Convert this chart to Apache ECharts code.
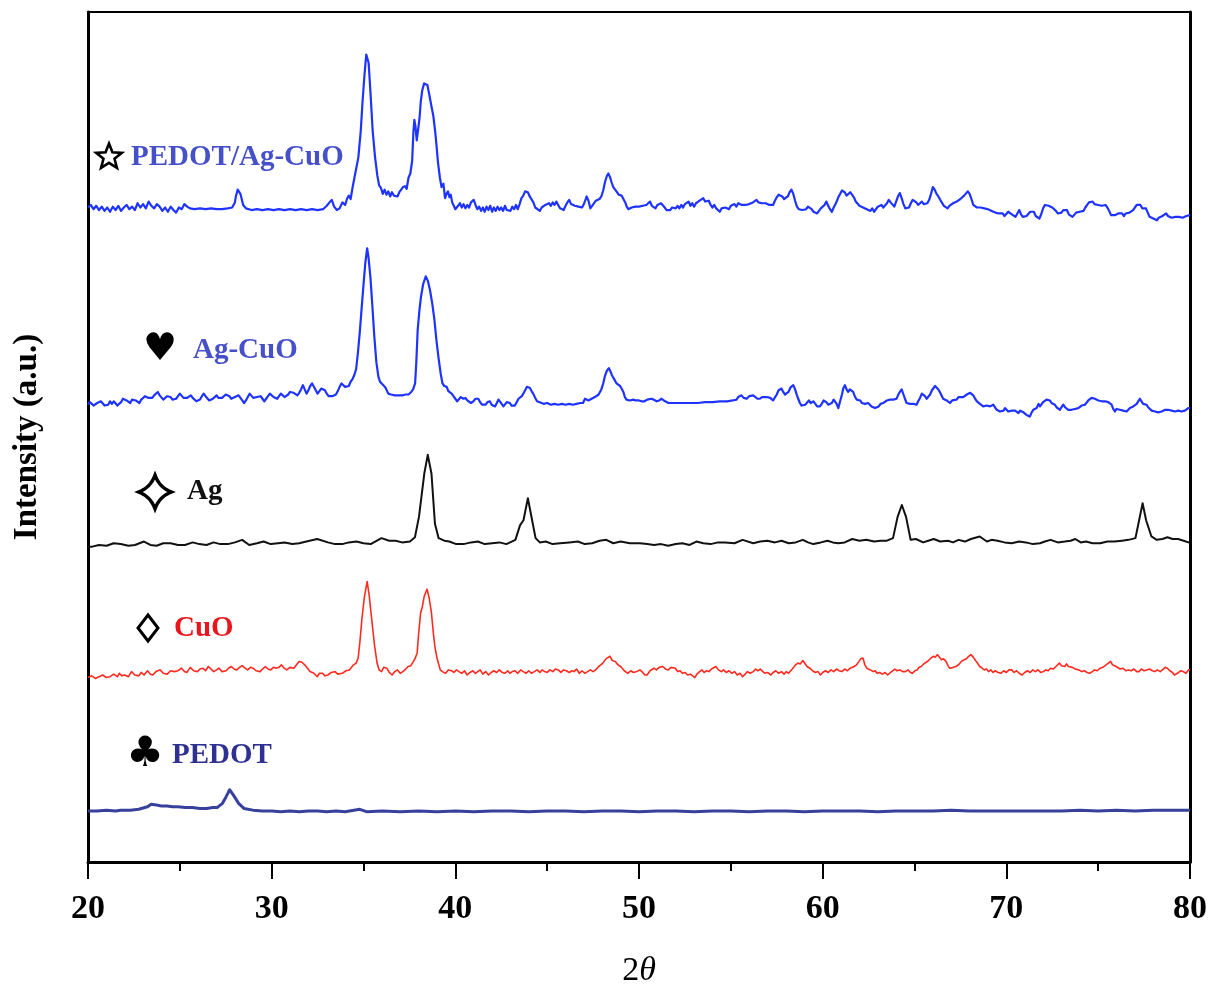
<!DOCTYPE html>
<html>
<head>
<meta charset="utf-8">
<script src="https://cdn.jsdelivr.net/npm/echarts@6/dist/echarts.min.js"></script>
<style>html,body{margin:0;padding:0;background:#fff}#c{width:1213px;height:987px}</style>
</head>
<body>
<div id="c"></div>
<script>
// x axis ticks (2θ, degrees)
const xTicks = [20, 30, 40, 50, 60, 70, 80];

// Series labels
const labels = ['PEDOT/Ag-CuO', 'Ag-CuO', 'Ag', 'CuO', 'PEDOT'];

// [2θ, intensity (a.u., stacked offset)]
const pedotAgCuO = [
[20.0,77.0],[20.15,77.3],[20.3,76.8],[20.45,77.2],[20.6,76.7],[20.75,77.1],[20.9,76.6],[21.05,77.0],[21.2,76.5],[21.35,77.1],
[21.5,76.7],[21.65,77.2],[21.8,76.6],[21.95,77.0],[22.1,77.3],[22.25,76.8],[22.4,77.1],[22.55,76.7],[22.7,77.5],[22.85,77.0],
[23.0,77.4],[23.15,76.9],[23.3,77.7],[23.45,77.2],[23.6,76.9],[23.75,77.4],[23.9,77.1],[24.05,76.6],[24.2,77.0],[24.35,76.5],
[24.5,77.1],[24.65,76.7],[24.8,76.4],[24.95,77.0],[25.1,76.8],[25.25,77.4],[25.4,77.1],[25.55,76.9],[25.8,76.8],[26.1,76.9],
[26.4,76.8],[26.7,76.9],[27.0,76.8],[27.3,76.8],[27.6,76.9],[27.85,77.0],[28.0,77.6],[28.05,78.3],[28.15,79.1],[28.25,79.0],
[28.3,78.6],[28.45,77.3],[28.6,76.9],[28.9,76.7],[29.2,76.8],[29.5,76.7],[29.8,76.8],[30.1,76.7],[30.4,76.8],[30.7,76.7],
[31.0,76.8],[31.3,76.7],[31.6,76.8],[31.9,76.7],[32.2,76.8],[32.5,76.7],[32.8,76.8],[33.0,77.2],[33.15,77.6],[33.27,77.9],
[33.4,77.1],[33.55,76.7],[33.7,76.9],[33.85,77.6],[34.0,77.3],[34.1,78.0],[34.2,78.4],[34.3,78.0],[34.4,79.3],[34.55,81.0],
[34.72,82.9],[34.85,86.0],[34.95,89.5],[35.05,92.5],[35.15,95.0],[35.2,95.2],[35.28,94.0],[35.38,90.5],[35.5,86.0],[35.63,82.9],
[35.75,80.8],[35.85,79.6],[35.95,79.3],[36.05,78.6],[36.15,79.1],[36.25,78.5],[36.35,78.9],[36.45,78.3],[36.55,78.8],[36.65,78.4],
[36.75,78.6],[36.85,78.3],[36.95,78.8],[37.05,78.7],[37.15,79.4],[37.26,79.5],[37.35,79.2],[37.45,80.5],[37.55,81.0],[37.65,82.5],
[37.72,86.0],[37.77,87.3],[37.83,86.5],[37.9,84.9],[37.98,84.7],[38.05,87.5],[38.12,89.5],[38.2,90.8],[38.3,91.6],[38.38,91.8],
[38.48,91.4],[38.58,90.3],[38.71,88.8],[38.8,87.8],[38.9,86.0],[38.98,84.2],[39.05,82.4],[39.16,80.5],[39.25,79.4],[39.35,79.8],
[39.44,78.1],[39.52,78.6],[39.6,78.9],[39.68,78.2],[39.75,78.5],[39.83,77.6],[39.9,77.3],[40.0,76.8],[40.07,76.6],[40.15,77.2],
[40.25,77.5],[40.35,77.0],[40.45,77.4],[40.55,76.9],[40.65,77.3],[40.75,77.0],[40.85,77.6],[41.0,77.9],[41.1,77.3],[41.2,76.8],
[41.3,77.1],[41.4,76.6],[41.5,77.0],[41.6,76.5],[41.7,77.1],[41.8,76.7],[41.9,77.2],[42.0,76.5],[42.1,77.0],[42.2,76.6],
[42.3,77.1],[42.4,76.7],[42.5,77.0],[42.6,76.6],[42.7,77.2],[42.8,76.7],[42.9,76.9],[43.0,76.6],[43.1,77.1],[43.2,76.8],
[43.3,77.3],[43.4,76.8],[43.5,77.4],[43.6,78.1],[43.7,78.4],[43.8,78.9],[43.88,79.1],[43.95,78.8],[44.05,78.3],[44.15,78.5],
[44.25,77.6],[44.35,77.0],[44.45,76.9],[44.6,76.6],[44.7,77.0],[44.8,76.8],[44.9,77.3],[45.0,77.1],[45.1,77.5],[45.2,77.2],
[45.3,77.6],[45.4,77.3],[45.5,77.7],[45.6,77.3],[45.7,76.9],[45.8,77.0],[45.9,76.7],[46.0,77.2],[46.1,77.6],[46.2,77.9],
[46.3,77.4],[46.4,77.5],[46.5,77.2],[46.6,77.4],[46.7,77.1],[46.8,77.3],[46.9,77.0],[47.0,77.4],[47.1,78.0],[47.15,78.3],
[47.25,77.8],[47.35,76.9],[47.45,77.2],[47.55,77.0],[47.65,77.8],[47.75,77.6],[47.85,78.0],[47.95,78.3],[48.05,79.0],[48.15,80.0],
[48.25,80.7],[48.33,81.0],[48.42,80.6],[48.5,80.0],[48.6,79.4],[48.7,79.3],[48.8,78.8],[48.9,78.5],[48.97,78.7],[49.05,78.4],
[49.15,78.3],[49.25,77.6],[49.33,77.1],[49.42,76.8],[49.5,76.7],[49.6,77.0],[49.7,76.8],[49.8,77.1],[49.9,76.9],[50.0,77.1],
[50.1,76.9],[50.2,77.2],[50.3,77.0],[50.4,77.3],[50.5,77.1],[50.6,77.7],[50.7,77.2],[50.8,77.0],[50.9,76.9],[51.0,77.3],
[51.1,77.1],[51.2,77.5],[51.3,77.7],[51.4,77.0],[51.5,76.7],[51.6,76.9],[51.7,76.7],[51.8,77.0],[51.9,76.8],[52.0,76.9],
[52.1,77.2],[52.2,76.9],[52.3,77.3],[52.4,77.0],[52.5,77.4],[52.6,77.2],[52.7,77.7],[52.8,77.2],[52.9,77.5],[53.0,77.1],
[53.1,77.5],[53.2,77.3],[53.3,77.8],[53.4,77.6],[53.5,78.1],[53.6,77.7],[53.7,77.5],[53.8,77.8],[53.9,77.3],[54.0,77.0],
[54.1,77.3],[54.2,76.9],[54.3,76.7],[54.4,76.5],[54.5,76.9],[54.6,76.7],[54.7,77.0],[54.8,77.1],[54.9,76.8],[55.0,77.2],
[55.1,77.0],[55.2,77.4],[55.3,77.1],[55.4,77.5],[55.5,77.7],[55.6,77.3],[55.7,77.1],[55.8,77.3],[55.9,77.1],[56.0,77.4],
[56.1,77.2],[56.2,77.6],[56.3,77.5],[56.4,77.9],[56.5,77.6],[56.6,77.8],[56.7,77.5],[56.8,77.7],[56.9,77.5],[57.0,77.6],
[57.1,77.3],[57.2,77.5],[57.3,77.3],[57.4,77.8],[57.5,78.2],[57.6,78.5],[57.7,78.7],[57.8,78.3],[57.9,78.0],[58.0,77.9],
[58.1,78.3],[58.2,78.8],[58.3,79.1],[58.4,78.6],[58.5,77.8],[58.6,77.1],[58.7,76.8],[58.8,77.0],[58.9,76.7],[59.0,76.5],
[59.1,76.8],[59.2,77.1],[59.3,77.1],[59.4,76.8],[59.5,76.5],[59.6,76.4],[59.7,76.3],[59.8,76.6],[59.9,76.9],[60.0,76.8],
[60.1,77.3],[60.2,77.7],[60.3,77.2],[60.4,76.8],[60.5,76.5],[60.6,77.0],[60.7,77.4],[60.76,77.7],[60.85,78.2],[60.95,78.6],
[61.05,79.0],[61.12,79.1],[61.2,78.8],[61.3,78.4],[61.4,78.5],[61.5,78.8],[61.58,78.7],[61.7,78.2],[61.8,77.7],[61.9,77.5],
[62.0,77.2],[62.1,77.4],[62.2,77.0],[62.3,77.1],[62.4,76.8],[62.5,76.9],[62.6,76.6],[62.7,76.9],[62.8,76.5],[62.9,76.7],
[63.0,77.1],[63.1,76.9],[63.2,77.3],[63.3,77.0],[63.4,77.2],[63.5,77.5],[63.6,77.9],[63.7,77.6],[63.8,77.4],[63.9,77.1],
[64.0,77.7],[64.1,78.3],[64.2,78.7],[64.3,78.1],[64.4,77.4],[64.5,76.9],[64.6,76.7],[64.7,77.0],[64.8,77.5],[64.9,77.9],
[65.0,77.9],[65.1,77.6],[65.2,77.3],[65.3,77.4],[65.4,77.7],[65.5,77.4],[65.6,77.6],[65.7,77.5],[65.8,77.9],[65.9,78.6],
[66.0,79.4],[66.1,79.1],[66.2,78.6],[66.3,78.3],[66.4,77.9],[66.5,77.8],[66.6,77.2],[66.7,77.0],[66.8,76.9],[66.9,77.2],
[67.0,77.4],[67.1,77.5],[67.2,77.3],[67.3,77.7],[67.4,77.9],[67.5,78.0],[67.6,78.2],[67.7,78.4],[67.8,78.6],[67.9,78.9],
[68.0,78.6],[68.1,78.0],[68.2,77.3],[68.3,77.1],[68.4,77.0],[68.5,76.9],[68.6,77.0],[68.7,76.8],[68.8,76.9],[68.9,76.7],
[69.0,76.8],[69.1,76.6],[69.2,76.6],[69.3,76.5],[69.4,76.4],[69.5,76.6],[69.6,76.3],[69.7,76.1],[69.8,76.3],[69.9,76.0],
[70.0,76.2],[70.1,76.5],[70.2,76.7],[70.3,76.2],[70.4,76.0],[70.5,75.9],[70.6,76.3],[70.7,76.7],[70.8,76.2],[70.9,75.9],
[71.0,75.7],[71.1,76.0],[71.2,76.2],[71.3,76.5],[71.4,76.3],[71.5,76.5],[71.6,76.0],[71.7,75.8],[71.8,75.7],[71.9,76.2],
[72.0,76.9],[72.1,77.3],[72.2,77.5],[72.3,77.2],[72.4,77.3],[72.5,77.0],[72.6,77.1],[72.7,76.6],[72.8,76.3],[72.9,76.1],
[73.0,76.4],[73.1,76.7],[73.2,76.5],[73.3,76.7],[73.4,76.2],[73.5,76.0],[73.6,75.9],[73.7,76.1],[73.8,76.4],[73.9,76.2],
[74.0,76.5],[74.1,76.7],[74.2,76.6],[74.3,77.0],[74.4,77.1],[74.5,77.6],[74.6,77.5],[74.7,77.7],[74.8,77.4],[74.9,77.5],
[75.0,77.3],[75.1,77.5],[75.2,77.2],[75.3,77.4],[75.4,77.3],[75.5,77.0],[75.6,76.6],[75.7,76.1],[75.8,75.9],[75.9,76.1],
[76.0,76.0],[76.1,76.3],[76.2,76.1],[76.3,76.3],[76.4,76.0],[76.5,76.3],[76.6,76.1],[76.7,76.4],[76.8,76.3],[76.9,76.7],
[77.0,77.0],[77.1,77.3],[77.2,77.5],[77.3,77.3],[77.4,76.9],[77.5,76.7],[77.6,76.9],[77.7,76.4],[77.8,75.9],[77.9,75.8],
[78.0,75.7],[78.1,75.6],[78.2,75.5],[78.3,75.8],[78.4,75.9],[78.5,76.0],[78.6,76.2],[78.7,76.3],[78.8,76.0],[78.9,75.9],
[79.0,75.8],[79.1,75.7],[79.2,75.9],[79.3,75.8],[79.4,75.9],[79.5,76.0],[79.6,75.8],[79.7,75.9],[79.8,76.0],[79.9,75.9],
[80.0,76.1]
];

const agCuO = [
[20.0,53.8],[20.1,54.1],[20.2,54.0],[20.3,53.7],[20.4,53.6],[20.5,54.0],[20.6,53.8],[20.7,54.2],[20.8,54.0],[20.9,53.7],
[21.0,53.9],[21.1,53.8],[21.2,54.2],[21.3,53.9],[21.4,54.2],[21.5,54.0],[21.6,53.7],[21.7,53.8],[21.8,54.1],[21.9,54.5],
[22.0,54.7],[22.1,54.3],[22.2,54.2],[22.3,54.0],[22.4,54.4],[22.5,54.5],[22.6,54.3],[22.7,54.1],[22.8,54.0],[22.9,54.4],
[23.0,54.6],[23.1,54.8],[23.2,54.9],[23.3,54.6],[23.4,54.5],[23.5,54.6],[23.6,54.9],[23.7,55.1],[23.8,55.3],[23.9,54.9],
[24.0,54.7],[24.1,54.4],[24.2,54.4],[24.3,54.8],[24.4,54.6],[24.5,54.7],[24.6,54.4],[24.7,54.2],[24.8,54.5],[24.9,54.8],
[25.0,55.1],[25.1,54.9],[25.2,54.6],[25.3,54.4],[25.4,54.6],[25.5,54.7],[25.6,54.9],[25.7,54.6],[25.8,54.4],[25.9,54.2],
[26.0,54.0],[26.1,54.4],[26.2,54.8],[26.3,55.1],[26.4,54.8],[26.5,54.6],[26.6,54.3],[26.7,54.2],[26.8,54.5],[26.9,54.7],
[27.0,54.9],[27.1,54.6],[27.2,54.5],[27.3,54.6],[27.4,54.8],[27.5,55.0],[27.6,55.1],[27.7,54.8],[27.8,54.5],[27.9,54.6],
[28.0,54.7],[28.1,54.9],[28.2,54.9],[28.3,54.6],[28.4,54.3],[28.5,54.0],[28.6,54.3],[28.7,54.7],[28.8,55.1],[28.9,54.9],
[29.0,54.6],[29.1,54.5],[29.2,54.7],[29.3,54.9],[29.4,54.8],[29.5,54.5],[29.6,54.2],[29.7,54.5],[29.8,54.8],[29.9,55.1],
[30.0,54.9],[30.1,54.7],[30.2,54.5],[30.3,54.5],[30.4,54.8],[30.5,55.1],[30.6,54.9],[30.7,54.7],[30.8,54.7],[30.9,55.0],
[31.0,55.3],[31.1,55.5],[31.2,55.2],[31.3,55.0],[31.4,54.9],[31.5,55.2],[31.6,55.6],[31.7,56.1],[31.8,55.6],[31.9,55.1],
[32.0,55.5],[32.1,56.0],[32.2,56.3],[32.3,55.9],[32.4,55.5],[32.5,55.1],[32.6,55.4],[32.7,55.7],[32.8,55.9],[32.9,55.5],
[33.0,55.1],[33.1,54.8],[33.2,54.7],[33.3,54.8],[33.4,54.9],[33.5,55.0],[33.6,55.4],[33.7,55.9],[33.8,56.3],[33.9,56.1],
[34.0,55.9],[34.1,55.8],[34.2,56.0],[34.3,56.5],[34.4,56.8],[34.5,57.3],[34.6,58.0],[34.7,60.0],[34.8,62.4],[34.9,65.2],
[35.0,67.9],[35.1,70.5],[35.2,72.2],[35.28,71.0],[35.38,68.7],[35.48,65.5],[35.59,61.8],[35.7,58.8],[35.81,57.1],[35.9,56.5],
[36.0,56.6],[36.08,56.1],[36.2,55.8],[36.35,55.1],[36.5,55.0],[36.7,54.9],[36.9,54.9],[37.1,54.9],[37.3,55.0],[37.45,55.0],
[37.6,55.3],[37.7,55.6],[37.81,56.3],[37.88,59.0],[37.95,62.6],[38.05,65.0],[38.13,66.5],[38.25,68.0],[38.39,68.9],[38.5,68.4],
[38.62,67.3],[38.75,65.6],[38.86,63.8],[38.97,61.4],[39.08,59.4],[39.2,57.5],[39.3,56.3],[39.4,56.0],[39.53,55.9],[39.62,55.4],
[39.7,55.6],[39.8,55.1],[39.9,54.8],[40.0,54.5],[40.1,54.2],[40.2,54.3],[40.3,54.7],[40.44,54.5],[40.55,54.6],[40.65,54.3],
[40.75,54.5],[40.85,54.0],[40.98,54.2],[41.1,54.5],[41.25,54.5],[41.35,54.1],[41.45,53.8],[41.55,53.6],[41.65,53.8],[41.75,54.1],
[41.88,54.2],[41.98,53.8],[42.08,53.6],[42.16,53.6],[42.26,54.0],[42.35,54.4],[42.43,54.3],[42.52,53.9],[42.62,53.6],[42.7,53.7],
[42.8,54.1],[42.9,54.2],[42.97,54.0],[43.06,53.7],[43.15,53.6],[43.24,53.7],[43.34,54.1],[43.44,54.5],[43.52,54.4],[43.62,54.8],
[43.7,55.1],[43.8,55.5],[43.9,55.9],[43.97,56.1],[44.05,55.8],[44.15,55.4],[44.24,55.1],[44.35,54.6],[44.45,54.2],[44.55,54.1],
[44.8,53.9],[45.0,54.0],[45.2,53.8],[45.4,53.9],[45.6,53.8],[45.8,53.9],[46.0,53.8],[46.2,53.9],[46.4,53.8],[46.6,53.9],
[46.8,54.0],[46.95,54.0],[47.06,54.5],[47.15,54.6],[47.25,54.3],[47.33,54.2],[47.42,54.5],[47.5,54.6],[47.6,54.7],[47.7,54.6],
[47.8,55.0],[47.87,55.1],[47.95,55.6],[48.05,56.3],[48.15,57.2],[48.25,57.8],[48.36,58.1],[48.45,57.7],[48.52,57.3],[48.6,57.1],
[48.7,56.6],[48.78,56.3],[48.88,56.4],[48.97,56.0],[49.05,55.7],[49.15,55.3],[49.23,54.7],[49.32,54.4],[49.41,54.2],[49.5,54.3],
[49.6,54.4],[49.69,54.4],[49.8,54.3],[49.9,54.2],[50.0,54.3],[50.14,54.2],[50.3,54.2],[50.45,54.4],[50.55,54.3],[50.68,54.5],
[50.8,54.4],[50.96,54.2],[51.1,54.3],[51.23,54.5],[51.35,54.3],[51.45,54.1],[51.6,54.0],[52.0,54.0],[52.4,54.0],[52.8,54.0],
[53.2,54.0],[53.6,54.1],[54.0,54.1],[54.4,54.2],[54.8,54.2],[55.1,54.3],[55.31,54.4],[55.4,54.7],[55.5,54.8],[55.58,54.9],
[55.7,54.6],[55.78,54.4],[55.86,54.5],[56.0,54.8],[56.1,54.7],[56.22,54.9],[56.32,54.7],[56.45,54.5],[56.58,54.5],[56.7,54.7],
[56.8,54.6],[56.95,54.7],[57.05,54.5],[57.15,54.6],[57.3,54.3],[57.4,54.4],[57.5,55.0],[57.6,55.5],[57.68,55.7],[57.76,55.7],
[57.85,55.3],[57.95,55.0],[58.04,54.9],[58.14,55.3],[58.24,55.8],[58.32,56.0],[58.4,56.1],[58.5,55.6],[58.6,54.9],[58.67,54.5],
[58.76,54.0],[58.85,53.7],[58.94,53.6],[59.05,53.8],[59.15,54.0],[59.25,54.3],[59.35,54.0],[59.49,54.2],[59.6,53.9],[59.7,53.6],
[59.85,53.6],[59.95,53.9],[60.05,54.3],[60.12,54.4],[60.2,54.1],[60.3,53.8],[60.39,53.6],[60.5,54.0],[60.6,54.4],[60.67,54.5],
[60.76,53.9],[60.85,53.4],[60.95,54.2],[61.05,55.0],[61.12,55.7],[61.21,56.1],[61.3,55.6],[61.39,55.3],[61.48,55.6],[61.57,55.7],
[61.66,55.3],[61.75,54.8],[61.85,54.4],[61.95,54.2],[62.05,54.3],[62.13,54.0],[62.21,54.0],[62.3,53.9],[62.4,53.8],[62.48,54.0],
[62.57,53.8],[62.66,53.6],[62.76,53.5],[62.85,53.4],[62.94,53.3],[63.05,53.6],[63.15,53.9],[63.3,54.0],[63.4,54.1],[63.5,54.3],
[63.66,54.4],[63.75,54.3],[63.85,54.4],[63.95,54.5],[64.02,54.5],[64.1,54.9],[64.2,55.3],[64.3,55.6],[64.4,55.0],[64.48,54.5],
[64.57,54.0],[64.66,53.9],[64.76,53.9],[64.85,53.8],[64.95,53.9],[65.02,53.8],[65.11,53.8],[65.2,54.2],[65.3,54.6],[65.4,55.1],
[65.48,55.1],[65.57,54.8],[65.66,54.5],[65.75,54.4],[65.85,55.0],[65.95,55.5],[66.05,55.6],[66.12,56.0],[66.2,56.1],[66.3,55.6],
[66.4,55.2],[66.48,55.0],[66.56,54.5],[66.65,54.6],[66.75,54.3],[66.85,54.2],[66.93,54.0],[67.05,54.3],[67.15,54.2],[67.29,54.4],
[67.4,54.7],[67.5,54.5],[67.65,54.7],[67.75,54.9],[67.85,55.0],[67.95,55.1],[68.03,55.2],[68.11,55.3],[68.2,54.9],[68.3,54.5],
[68.4,54.2],[68.47,54.0],[68.56,53.9],[68.65,53.8],[68.74,53.6],[68.83,53.4],[68.93,53.7],[69.02,53.5],[69.12,53.6],[69.2,53.8],
[69.29,53.8],[69.38,53.5],[69.48,53.2],[69.56,53.3],[69.65,53.0],[69.75,53.2],[69.85,53.1],[69.93,53.4],[70.01,53.2],[70.1,53.0],
[70.2,53.2],[70.3,53.1],[70.4,52.9],[70.48,53.1],[70.56,53.0],[70.66,52.8],[70.75,53.1],[70.85,53.0],[70.93,52.9],[71.01,52.8],
[71.1,52.6],[71.2,52.5],[71.28,52.4],[71.38,52.9],[71.47,53.2],[71.56,53.0],[71.65,53.4],[71.75,53.9],[71.83,53.6],[71.92,53.8],
[72.0,54.1],[72.1,54.3],[72.19,54.4],[72.28,54.2],[72.37,54.3],[72.46,54.0],[72.55,54.2],[72.64,53.8],[72.73,53.5],[72.82,53.3],
[72.92,53.2],[73.0,53.5],[73.1,53.8],[73.2,53.5],[73.28,53.6],[73.37,53.2],[73.46,53.0],[73.55,53.2],[73.64,53.0],[73.73,53.3],
[73.82,53.5],[73.92,53.4],[74.01,53.6],[74.1,53.7],[74.2,53.9],[74.28,53.8],[74.37,54.0],[74.46,54.3],[74.55,54.5],[74.64,54.6],
[74.73,54.7],[74.82,54.5],[74.92,54.6],[75.01,54.3],[75.1,54.5],[75.2,54.2],[75.28,54.4],[75.37,54.2],[75.46,54.4],[75.55,54.1],
[75.64,54.2],[75.73,53.8],[75.82,53.3],[75.91,53.0],[76.0,53.3],[76.1,53.5],[76.18,53.2],[76.27,53.4],[76.36,53.1],[76.45,53.3],
[76.55,53.0],[76.64,53.2],[76.73,53.4],[76.82,53.2],[76.91,53.6],[77.0,53.6],[77.1,53.9],[77.18,54.2],[77.27,54.5],[77.36,54.2],
[77.45,53.9],[77.54,54.0],[77.63,53.8],[77.72,53.5],[77.82,53.3],[77.91,53.1],[78.0,53.2],[78.1,53.0],[78.18,52.9],[78.27,52.9],
[78.36,52.8],[78.46,53.0],[78.55,53.1],[78.64,53.2],[78.72,53.2],[78.81,53.2],[78.9,53.4],[79.0,53.1],[79.09,53.0],[79.18,53.0],
[79.27,53.2],[79.36,53.1],[79.45,52.9],[79.54,53.0],[79.63,53.0],[79.72,53.1],[79.82,53.2],[79.91,53.4],[80.0,53.4]
];

const ag = [
[20.0,37.1],[20.23,37.1],[20.6,37.3],[21.01,37.2],[21.4,37.5],[21.78,37.4],[22.2,37.2],[22.56,37.3],[22.8,37.5],[23.05,37.7],
[23.4,37.3],[23.73,37.2],[24.1,37.5],[24.5,37.5],[24.9,37.3],[25.28,37.3],[25.7,37.6],[26.06,37.4],[26.45,37.3],[26.84,37.6],
[27.2,37.4],[27.62,37.4],[28.0,37.6],[28.39,37.9],[28.78,37.3],[29.2,37.5],[29.56,37.7],[29.95,37.4],[30.34,37.5],[30.7,37.6],
[31.12,37.4],[31.5,37.5],[31.89,37.7],[32.48,38.0],[33.06,37.6],[33.45,37.4],[33.84,37.4],[34.2,37.6],[34.61,37.7],[35.0,37.5],
[35.39,37.4],[35.98,38.1],[36.4,37.8],[36.75,37.8],[37.1,37.6],[37.53,37.7],[37.8,38.2],[38.02,40.6],[38.31,45.7],[38.5,47.9],
[38.7,45.7],[38.89,39.8],[39.09,38.1],[39.4,37.8],[39.67,37.7],[40.05,37.4],[40.45,37.4],[40.85,37.6],[41.23,37.7],[41.6,37.4],
[42.0,37.5],[42.4,37.6],[42.78,37.4],[43.27,37.9],[43.52,39.6],[43.71,40.2],[43.95,42.8],[44.18,40.2],[44.37,38.1],[44.6,37.6],
[44.92,37.7],[45.3,37.4],[45.7,37.5],[46.2,37.6],[46.67,37.7],[47.05,37.4],[47.45,37.5],[47.85,37.8],[48.22,37.9],[48.6,37.5],
[49.0,37.7],[49.5,37.5],[50.05,37.5],[50.45,37.4],[50.82,37.3],[51.2,37.4],[51.59,37.2],[52.0,37.4],[52.36,37.5],[52.75,37.3],
[53.13,37.7],[53.5,37.5],[53.9,37.4],[54.3,37.6],[54.68,37.6],[55.2,37.5],[55.64,37.9],[56.22,37.5],[56.6,37.7],[56.99,37.8],
[57.4,37.6],[57.76,37.8],[58.15,37.5],[58.53,37.6],[58.92,37.9],[59.2,37.6],[59.49,37.4],[59.9,37.6],[60.26,37.8],[60.55,37.6],
[60.84,37.5],[61.2,37.6],[61.61,38.0],[62.0,37.8],[62.38,37.9],[62.8,37.7],[63.16,37.8],[63.5,37.8],[63.83,38.1],[64.08,40.6],
[64.31,42.0],[64.54,40.6],[64.79,37.9],[65.08,38.0],[65.47,37.6],[65.75,37.8],[66.05,38.0],[66.4,37.7],[66.82,37.8],[67.1,37.6],
[67.4,37.9],[67.75,37.7],[68.07,38.0],[68.55,38.3],[68.94,37.7],[69.2,37.9],[69.52,37.8],[69.9,37.6],[70.29,37.5],[70.7,37.7],
[71.06,37.6],[71.45,37.4],[71.83,37.5],[72.1,37.7],[72.41,37.9],[72.8,37.6],[73.18,37.7],[73.5,37.8],[73.76,38.0],[74.05,37.6],
[74.33,37.7],[74.7,37.5],[75.11,37.5],[75.5,37.7],[75.88,37.7],[76.3,37.8],[76.65,37.9],[77.03,38.1],[77.23,40.2],[77.42,42.2],
[77.61,40.2],[77.9,38.3],[78.19,37.9],[78.5,38.0],[78.77,38.2],[79.05,38.0],[79.35,38.0],[79.65,37.8],[79.92,37.6],[80.0,37.6]
];

const cuO = [
[20.0,21.7],[20.2,21.9],[20.4,21.6],[20.6,21.8],[20.8,22.0],[21.0,21.7],[21.2,21.8],[21.4,22.1],[21.6,21.8],[21.7,22.2],
[21.85,21.9],[22.0,22.0],[22.2,21.8],[22.37,22.4],[22.55,22.0],[22.76,21.9],[22.9,22.3],[23.05,22.0],[23.24,22.5],[23.4,22.1],
[23.53,22.0],[23.7,22.4],[23.92,22.6],[24.1,22.2],[24.31,22.1],[24.5,22.5],[24.7,22.4],[24.9,22.5],[25.09,22.8],[25.25,22.4],
[25.38,22.3],[25.57,22.9],[25.75,22.5],[25.96,22.4],[26.1,22.7],[26.26,22.8],[26.4,22.5],[26.55,23.0],[26.7,22.7],[26.84,22.4],
[27.0,22.6],[27.13,22.8],[27.3,22.4],[27.52,22.5],[27.65,22.8],[27.81,23.0],[27.95,22.7],[28.1,22.6],[28.25,22.9],[28.39,23.1],
[28.55,22.8],[28.69,22.6],[28.85,22.9],[28.98,22.8],[29.15,22.5],[29.37,22.4],[29.5,22.7],[29.66,23.0],[29.8,22.7],[29.95,22.6],
[30.1,22.9],[30.24,22.8],[30.4,22.9],[30.53,23.2],[30.68,22.8],[30.82,22.6],[31.0,22.9],[31.21,22.8],[31.35,23.2],[31.5,23.6],
[31.65,23.5],[31.8,23.2],[31.95,22.8],[32.09,22.4],[32.3,22.2],[32.48,21.8],[32.6,22.2],[32.77,22.2],[32.9,21.9],[33.06,22.0],
[33.25,22.3],[33.45,22.4],[33.6,22.1],[33.84,22.2],[34.05,22.5],[34.23,22.6],[34.35,22.9],[34.46,23.2],[34.6,23.4],[34.71,24.0],
[34.8,25.8],[34.91,28.5],[35.05,31.2],[35.2,33.0],[35.32,31.2],[35.45,28.5],[35.6,25.5],[35.74,23.4],[35.85,22.6],[35.98,22.4],
[36.1,22.9],[36.27,22.8],[36.4,22.3],[36.56,22.0],[36.7,22.4],[36.85,22.6],[37.0,22.2],[37.14,22.4],[37.3,22.7],[37.43,23.0],
[37.58,23.1],[37.72,23.6],[37.82,24.0],[37.92,24.6],[38.0,26.8],[38.11,29.3],[38.2,30.0],[38.3,31.2],[38.46,32.1],[38.58,31.0],
[38.7,29.3],[38.8,27.0],[38.89,25.3],[39.0,24.0],[39.1,23.2],[39.18,22.6],[39.3,22.4],[39.47,22.2],[39.62,22.6],[39.8,22.5],
[39.92,22.3],[40.06,22.6],[40.2,22.4],[40.35,22.2],[40.5,22.5],[40.64,22.0],[40.8,22.3],[40.95,22.5],[41.1,22.2],[41.22,22.4],
[41.35,22.6],[41.5,22.1],[41.65,22.4],[41.81,22.0],[41.95,22.3],[42.1,22.5],[42.25,22.3],[42.39,22.6],[42.55,22.3],[42.7,22.2],
[42.85,22.5],[42.97,22.2],[43.1,22.4],[43.25,22.5],[43.4,22.2],[43.56,22.6],[43.7,22.4],[43.85,22.2],[44.0,22.5],[44.14,22.2],
[44.3,22.4],[44.45,22.6],[44.6,22.3],[44.72,22.6],[44.86,22.4],[45.0,22.3],[45.15,22.6],[45.31,22.4],[45.45,22.7],[45.6,22.6],
[45.75,22.3],[45.89,22.6],[46.05,22.5],[46.2,22.3],[46.35,22.5],[46.47,22.4],[46.6,22.7],[46.75,22.2],[46.9,22.5],[47.06,22.2],
[47.2,22.4],[47.35,22.6],[47.5,22.4],[47.64,22.6],[47.8,23.0],[47.92,23.2],[48.03,23.4],[48.2,23.9],[48.3,24.0],[48.42,24.2],
[48.55,23.7],[48.63,23.9],[48.71,23.6],[48.85,23.2],[49.0,23.0],[49.1,22.9],[49.2,22.5],[49.39,22.2],[49.55,22.5],[49.7,22.3],
[49.88,22.4],[50.05,22.6],[50.2,22.3],[50.32,22.0],[50.44,22.0],[50.6,22.5],[50.7,22.4],[50.82,22.8],[50.95,22.6],[51.1,22.9],
[51.3,23.0],[51.45,22.7],[51.59,22.6],[51.75,22.9],[51.85,22.7],[51.98,22.8],[52.1,22.4],[52.24,22.5],[52.36,22.2],[52.5,22.3],
[52.65,22.0],[52.8,22.1],[52.9,21.9],[53.04,21.7],[53.15,22.1],[53.3,22.4],[53.42,22.6],[53.55,22.3],[53.68,22.5],[53.81,22.4],
[53.95,22.7],[54.05,22.9],[54.19,23.0],[54.32,22.6],[54.48,22.4],[54.6,22.6],[54.75,22.3],[54.9,22.5],[55.06,22.2],[55.2,22.4],
[55.35,22.0],[55.5,22.2],[55.64,21.8],[55.78,22.1],[55.9,22.4],[56.05,22.2],[56.22,22.4],[56.35,22.7],[56.48,22.5],[56.6,22.7],
[56.7,22.6],[56.85,22.2],[57.0,22.3],[57.18,22.0],[57.3,22.3],[57.45,22.5],[57.6,22.2],[57.76,22.4],[57.9,22.1],[58.02,22.4],
[58.14,22.2],[58.3,22.6],[58.42,22.9],[58.53,23.2],[58.65,23.4],[58.78,23.3],[58.92,23.7],[59.05,23.3],[59.15,23.0],[59.3,22.8],
[59.45,22.5],[59.6,22.3],[59.75,22.4],[59.88,22.0],[60.0,22.3],[60.15,22.5],[60.3,22.3],[60.46,22.6],[60.6,22.4],[60.75,22.7],
[60.9,22.5],[61.04,22.4],[61.2,22.7],[61.35,22.5],[61.5,22.8],[61.6,22.9],[61.71,23.0],[61.85,23.2],[61.98,23.6],[62.07,23.9],
[62.19,24.0],[62.3,23.2],[62.4,22.8],[62.48,22.6],[62.6,22.6],[62.75,22.4],[62.86,22.5],[62.96,22.2],[63.1,22.3],[63.25,22.1],
[63.4,22.3],[63.54,22.0],[63.7,22.3],[63.8,22.5],[63.93,22.7],[64.05,22.5],[64.2,22.6],[64.35,22.4],[64.5,22.4],[64.65,22.6],
[64.78,22.3],[64.89,22.2],[65.02,22.5],[65.14,22.6],[65.25,22.9],[65.37,23.0],[65.5,23.3],[65.64,23.5],[65.76,23.7],[65.9,24.0],
[66.02,24.2],[66.14,24.1],[66.24,24.4],[66.36,24.1],[66.46,23.8],[66.58,23.9],[66.72,23.6],[66.82,23.1],[66.92,22.8],[67.01,22.6],
[67.12,22.9],[67.25,23.0],[67.4,23.2],[67.55,23.6],[67.7,23.8],[67.83,23.9],[67.95,24.2],[68.07,24.4],[68.2,24.1],[68.32,23.7],
[68.43,23.4],[68.55,23.0],[68.68,22.8],[68.8,22.6],[68.92,22.7],[69.03,22.4],[69.15,22.6],[69.28,22.3],[69.4,22.5],[69.55,22.3],
[69.71,22.2],[69.85,22.5],[70.0,22.3],[70.15,22.6],[70.29,22.6],[70.42,22.3],[70.56,22.5],[70.7,22.2],[70.86,22.0],[71.0,22.3],
[71.15,22.5],[71.3,22.3],[71.44,22.6],[71.58,22.4],[71.72,22.6],[71.87,22.3],[72.02,22.4],[72.15,22.6],[72.28,22.5],[72.41,22.8],
[72.55,22.7],[72.7,23.0],[72.8,23.2],[72.89,23.4],[73.0,23.1],[73.1,23.0],[73.18,23.0],[73.28,23.3],[73.38,23.0],[73.47,23.2],
[73.6,22.9],[73.75,22.7],[73.95,22.6],[74.1,22.4],[74.25,22.5],[74.4,22.3],[74.53,22.2],[74.68,22.4],[74.8,22.6],[74.95,22.5],
[75.11,22.8],[75.25,22.9],[75.38,23.1],[75.5,23.3],[75.6,23.5],[75.68,23.6],[75.78,23.2],[75.88,23.3],[75.98,23.0],[76.07,23.0],
[76.2,22.7],[76.35,22.8],[76.5,22.5],[76.65,22.6],[76.8,22.5],[76.95,22.7],[77.1,22.4],[77.22,22.4],[77.35,22.7],[77.5,22.5],
[77.65,22.6],[77.8,22.7],[77.95,22.5],[78.08,22.4],[78.22,22.6],[78.38,22.4],[78.5,22.6],[78.65,22.9],[78.77,22.8],[78.9,22.5],
[79.05,22.3],[79.15,22.0],[79.25,21.8],[79.38,22.3],[79.5,22.5],[79.63,22.4],[79.78,22.2],[79.92,22.6],[80.0,22.6]
];

const pedot = [
[20.0,6.0],[20.5,6.0],[21.0,6.1],[21.5,6.0],[21.78,6.1],[22.3,6.1],[22.76,6.2],[23.24,6.5],[23.44,6.8],[23.73,6.7],
[24.0,6.6],[24.31,6.6],[24.6,6.5],[24.9,6.5],[25.3,6.4],[25.67,6.4],[26.1,6.3],[26.45,6.3],[26.8,6.4],[27.03,6.4],
[27.32,6.9],[27.5,7.6],[27.62,8.1],[27.71,8.5],[27.8,8.3],[27.91,7.9],[28.2,6.9],[28.49,6.3],[28.98,6.1],[29.5,6.0],
[30.0,6.0],[30.5,5.9],[31.0,6.0],[31.5,5.9],[32.0,6.0],[32.5,6.0],[33.0,5.9],[33.5,6.0],[34.0,5.9],[34.8,6.2],
[35.2,5.9],[36.0,6.0],[37.0,5.9],[38.0,6.0],[39.0,5.9],[40.0,6.0],[41.0,5.9],[42.0,6.0],[43.0,6.0],[44.0,5.9],
[45.0,6.0],[46.0,6.0],[47.0,5.9],[48.0,6.0],[49.0,6.0],[50.0,5.9],[51.0,6.0],[52.0,6.0],[53.0,5.9],[54.0,6.0],
[55.0,6.0],[56.0,5.9],[57.0,6.0],[58.0,6.0],[59.0,5.9],[60.0,6.0],[61.0,6.0],[62.0,6.0],[63.0,5.9],[64.0,6.0],
[65.0,6.0],[66.0,6.0],[67.0,6.1],[68.0,6.0],[69.0,6.0],[70.0,6.0],[71.0,6.0],[72.0,6.0],[73.0,6.0],[74.0,6.1],
[75.0,6.0],[76.0,6.1],[77.0,6.0],[78.0,6.1],[79.0,6.1],[80.0,6.1]
];

const serif = '"Liberation Serif","Times New Roman",serif';
const chart = echarts.init(document.getElementById('c'));

function lineSeries(name, data, color, width) {
  return { name, type: 'line', data, showSymbol: false, symbol: 'none', smooth: false,
    lineStyle: { color, width, join: 'round' }, silent: true, animation: false, z: 3 };
}

function labelText(x, y, text, fill) {
  return { type: 'text', x, y, z: 10, style: { text, fill, align: 'left', verticalAlign: 'middle',
    font: 'bold 29px ' + serif } };
}
function symText(x, y, text, font) {
  return { type: 'text', x, y, z: 10, style: { text, fill: '#000', align: 'center', verticalAlign: 'middle', font } };
}
// outline five-point star glyph (decoration next to label)
function starOutline(cx, cy, R, r) {
  const pts = [];
  for (let i = 0; i < 10; i++) {
    const a = -Math.PI / 2 + i * Math.PI / 5, rad = i % 2 ? r : R;
    pts.push([cx + rad * Math.cos(a), cy + rad * Math.sin(a)]);
  }
  return { type: 'polygon', z: 10, shape: { points: pts },
    style: { fill: '#fff', stroke: '#000', lineWidth: 2.6, lineJoin: 'miter' } };
}
// outline four-point sparkle glyph with concave sides
function sparkleOutline(cx, cy, rx, ry, k) {
  const tips = [[0, -ry], [rx, 0], [0, ry], [-rx, 0]];
  const pts = [];
  for (let q = 0; q < 4; q++) {
    const p0 = tips[q], p1 = tips[(q + 1) % 4];
    const c = [(p0[0] + p1[0]) * k, (p0[1] + p1[1]) * k];
    for (let s = 0; s < 8; s++) {
      const t = s / 8;
      pts.push([cx + (1 - t) * (1 - t) * p0[0] + 2 * (1 - t) * t * c[0] + t * t * p1[0],
                cy + (1 - t) * (1 - t) * p0[1] + 2 * (1 - t) * t * c[1] + t * t * p1[1]]);
    }
  }
  return { type: 'polygon', z: 10, shape: { points: pts },
    style: { fill: '#fff', stroke: '#000', lineWidth: 3.4, lineJoin: 'miter' } };
}

chart.setOption({
  animation: false,
  backgroundColor: '#ffffff',
  grid: { left: 88, right: 23, top: 12, bottom: 125, containLabel: false, outerBoundsMode: 'none' },
  xAxis: [{
    type: 'value', min: xTicks[0], max: xTicks[xTicks.length - 1], interval: 10,
    position: 'bottom',
    axisLine: { show: true, onZero: false, lineStyle: { color: '#000', width: 3 } },
    axisTick: { show: true, inside: false, length: 17, lineStyle: { color: '#000', width: 2 } },
    minorTick: { show: true, splitNumber: 2, length: 9, lineStyle: { color: '#000', width: 2 } },
    splitLine: { show: false },
    axisLabel: { show: true, margin: 30, color: '#000', fontFamily: serif, fontWeight: 'bold', fontSize: 34,
      formatter: v => xTicks.includes(v) ? String(v) : '' },
    name: '{a|2}{b|θ}', nameLocation: 'middle', nameGap: 92,
    nameTextStyle: { rich: { a: { fontFamily: serif, fontSize: 34, color: '#000' },
                             b: { fontFamily: serif, fontSize: 34, fontStyle: 'italic', color: '#000' } } }
  }, {
    type: 'value', min: 20, max: 80, position: 'top',
    axisLine: { show: true, onZero: false, lineStyle: { color: '#000', width: 2 } },
    axisTick: { show: false }, axisLabel: { show: false }, splitLine: { show: false }
  }],
  yAxis: [{
    type: 'value', min: 0, max: 100, position: 'left',
    axisLine: { show: true, onZero: false, lineStyle: { color: '#000', width: 3 } },
    axisTick: { show: false }, axisLabel: { show: false }, splitLine: { show: false },
    name: 'Intensity (a.u.)', nameLocation: 'middle', nameGap: 44, nameRotate: 90,
    nameTextStyle: { fontFamily: serif, fontWeight: 'bold', fontSize: 33, color: '#000' }
  }, {
    type: 'value', min: 0, max: 100, position: 'right',
    axisLine: { show: true, onZero: false, lineStyle: { color: '#000', width: 3 } },
    axisTick: { show: false }, axisLabel: { show: false }, splitLine: { show: false }
  }],
  series: [
    lineSeries(labels[0], pedotAgCuO, '#1f33ff', 2.2),
    lineSeries(labels[1], agCuO, '#1f33ff', 2.2),
    lineSeries(labels[2], ag, '#111111', 2),
    lineSeries(labels[3], cuO, '#ff2a1f', 1.6),
    lineSeries(labels[4], pedot, '#37419c', 3)
  ],
  graphic: [
    starOutline(109, 157, 13.5, 5.8),
    labelText(131, 158, labels[0], '#4650c8'),
    symText(160, 350, '♥', '38px "DejaVu Sans"'),
    labelText(193, 351, labels[1], '#4650c8'),
    sparkleOutline(155, 492, 16.5, 17, 0.26),
    labelText(187, 492, labels[2], '#111111'),
    { type: 'polygon', z: 10, shape: { points: [[148, 615], [158, 628], [148, 641], [138, 628]] },
      style: { fill: 'none', stroke: '#000', lineWidth: 3, lineJoin: 'miter' } },
    labelText(174, 629, labels[3], '#e8161c'),
    symText(145, 755, '♣', '42px "DejaVu Sans"'),
    labelText(172, 756, labels[4], '#2e3192')
  ]
});
</script>
</body>
</html>
